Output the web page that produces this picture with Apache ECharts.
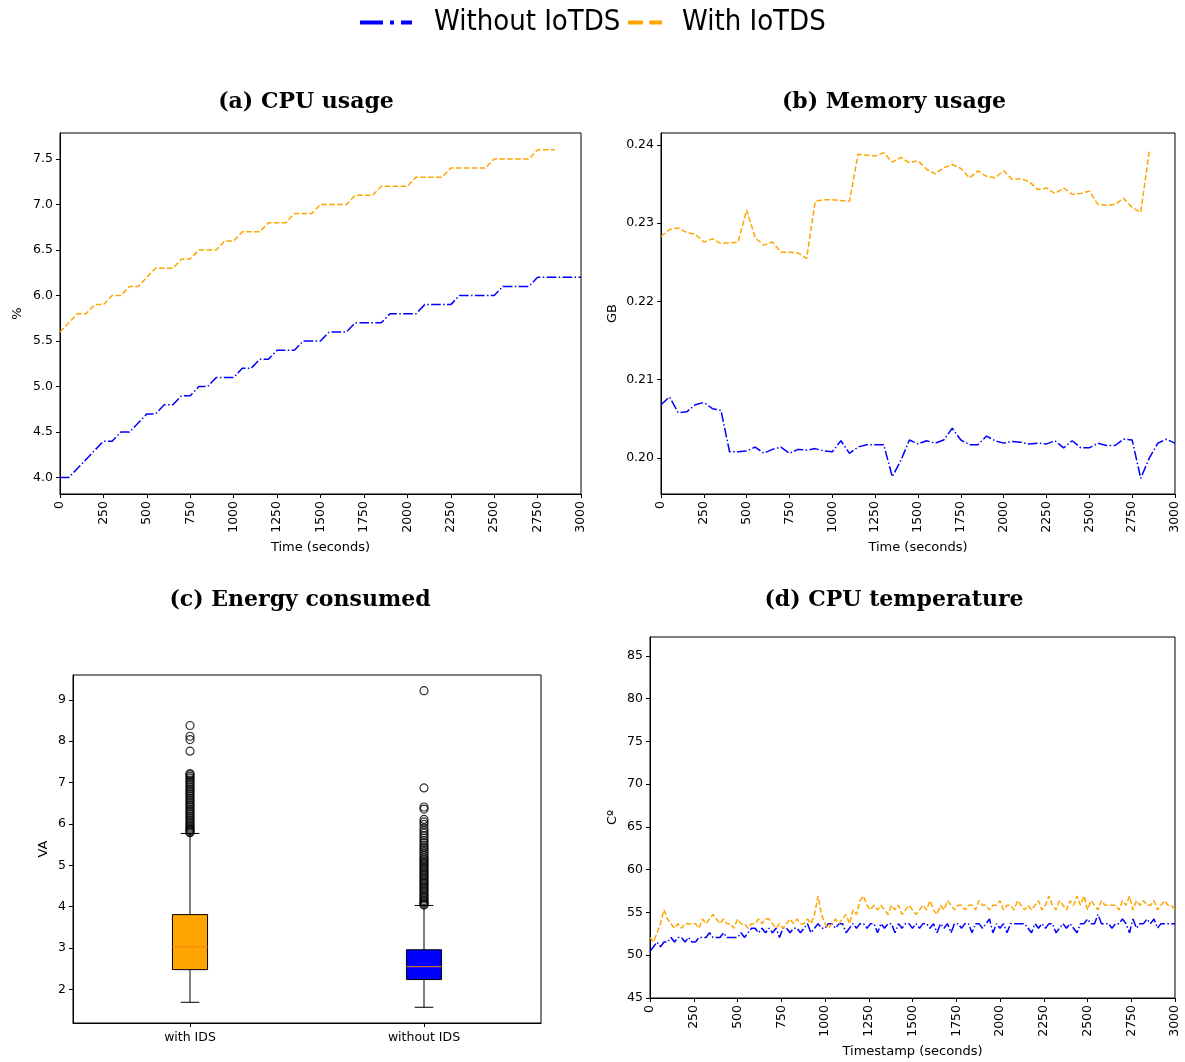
<!DOCTYPE html>
<html>
<head>
<meta charset="utf-8">
<script src="https://cdn.jsdelivr.net/npm/echarts@6/dist/echarts.min.js"></script>
<style>
  html, body { margin: 0; padding: 0; background: #fff; }
  #chart { width: 1185px; height: 1062px; }
</style>
</head>
<body>
<div id="chart"></div>
<script>
// ---- (a) CPU usage, %, one sample every 50 s ----
const cpuStep = 50;
const cpuWithout = [
  4.0, 4.0, 4.1, 4.2, 4.3, 4.4, 4.4, 4.5, 4.5, 4.6,
  4.7, 4.7, 4.8, 4.8, 4.9, 4.9, 5.0, 5.0, 5.1, 5.1,
  5.1, 5.2, 5.2, 5.3, 5.3, 5.4, 5.4, 5.4, 5.5, 5.5,
  5.5, 5.6, 5.6, 5.6, 5.7, 5.7, 5.7, 5.7, 5.8, 5.8,
  5.8, 5.8, 5.9, 5.9, 5.9, 5.9, 6.0, 6.0, 6.0, 6.0,
  6.0, 6.1, 6.1, 6.1, 6.1, 6.2, 6.2, 6.2, 6.2, 6.2,
  6.2
];
const cpuWith = [
  5.6, 5.7, 5.8, 5.8, 5.9, 5.9, 6.0, 6.0, 6.1, 6.1,
  6.2, 6.3, 6.3, 6.3, 6.4, 6.4, 6.5, 6.5, 6.5, 6.6,
  6.6, 6.7, 6.7, 6.7, 6.8, 6.8, 6.8, 6.9, 6.9, 6.9,
  7.0, 7.0, 7.0, 7.0, 7.1, 7.1, 7.1, 7.2, 7.2, 7.2,
  7.2, 7.3, 7.3, 7.3, 7.3, 7.4, 7.4, 7.4, 7.4, 7.4,
  7.5, 7.5, 7.5, 7.5, 7.5, 7.6, 7.6, 7.6
];
const cpuTicks = [4.0, 4.5, 5.0, 5.5, 6.0, 6.5, 7.0, 7.5];

// ---- (b) Memory usage, GB, one sample every 50 s ----
const memStep = 50;
const memWithout = [
  0.2068, 0.2078, 0.2058, 0.2059, 0.2068, 0.2071, 0.2063, 0.2061, 0.2008, 0.2008,
  0.2009, 0.2014, 0.2006, 0.2011, 0.2014, 0.2006, 0.2011, 0.2010, 0.2012, 0.2009,
  0.2008, 0.2022, 0.2006, 0.2014, 0.2017, 0.2017, 0.2017, 0.1976, 0.1997, 0.2023,
  0.2018, 0.2022, 0.2019, 0.2023, 0.2038, 0.2023, 0.2017, 0.2017, 0.2028, 0.2022,
  0.2019, 0.2021, 0.2020, 0.2018, 0.2019, 0.2018, 0.2022, 0.2013, 0.2022, 0.2013,
  0.2013, 0.2019, 0.2016, 0.2016, 0.2024, 0.2023, 0.1974, 0.2000, 0.2019, 0.2024,
  0.2019
];
const memWith = [
  0.2283, 0.2292, 0.2294, 0.2288, 0.2286, 0.2276, 0.2280, 0.2274, 0.2275, 0.2276,
  0.2317, 0.2281, 0.2272, 0.2276, 0.2263, 0.2263, 0.2262, 0.2255, 0.2328, 0.2330,
  0.2330, 0.2329, 0.2328, 0.2388, 0.2387, 0.2386, 0.2390, 0.2378, 0.2384, 0.2377,
  0.2380, 0.2369, 0.2363, 0.2371, 0.2375, 0.2370, 0.2358, 0.2367, 0.2360, 0.2358,
  0.2367, 0.2356, 0.2357, 0.2353, 0.2343, 0.2345, 0.2338, 0.2345, 0.2337, 0.2338,
  0.2341, 0.2324, 0.2323, 0.2324, 0.2332, 0.2320, 0.2314, 0.2392
];
const memTicks = [0.20, 0.21, 0.22, 0.23, 0.24];

// ---- (c) Energy consumed, VA: [min whisker, Q1, median, Q3, max whisker] ----
const energyCategories = ['with IDS', 'without IDS'];
const energyBoxes = [
  [1.69, 2.48, 3.03, 3.81, 5.77],
  [1.57, 2.24, 2.55, 2.96, 4.03]
];
const energyOutliersWith = [
  8.38, 8.12, 8.04, 7.76, 7.22, 7.19, 7.15, 7.11, 7.06, 7.02,
  6.98, 6.93, 6.89, 6.84, 6.80, 6.76, 6.71, 6.67, 6.62, 6.58,
  6.54, 6.49, 6.45, 6.41, 6.36, 6.32, 6.28, 6.23, 6.19, 6.15,
  6.10, 6.06, 6.02, 5.98, 5.94, 5.90, 5.87, 5.84, 5.81, 5.79
];
const energyOutliersWithout = [
  9.22, 6.87, 6.41, 6.36, 6.11, 6.05, 5.99, 5.90, 5.84, 5.78,
  5.72, 5.66, 5.60, 5.55, 5.49, 5.44, 5.39, 5.34, 5.29, 5.24,
  5.19, 5.15, 5.11, 5.07, 5.03, 4.99, 4.95, 4.91, 4.87, 4.83,
  4.79, 4.75, 4.71, 4.67, 4.63, 4.59, 4.55, 4.51, 4.47, 4.43,
  4.39, 4.35, 4.31, 4.27, 4.23, 4.19, 4.15, 4.12, 4.09, 4.06, 4.04
];
const energyTicks = [2, 3, 4, 5, 6, 7, 8, 9];

// ---- (d) CPU temperature, degrees C, one sample every 20 s ----
const tempStep = 20;
const tempWithout = [
  50.47, 51.00, 51.54, 51.00, 51.54, 51.54, 52.08, 51.54, 52.08, 52.08,
  51.54, 52.08, 51.54, 51.54, 52.08, 52.08, 52.08, 52.62, 52.08, 52.08,
  52.08, 52.62, 52.08, 52.08, 52.08, 52.08, 52.62, 52.08, 52.62, 53.16,
  53.16, 52.62, 53.16, 52.62, 53.16, 52.62, 53.16, 52.08, 53.16, 53.16,
  52.62, 53.16, 53.16, 52.62, 53.16, 53.69, 52.62, 53.16, 53.69, 53.16,
  53.16, 53.69, 53.69, 53.16, 53.69, 53.69, 52.62, 53.16, 53.69, 53.16,
  53.69, 53.69, 53.16, 53.69, 53.69, 52.62, 53.69, 53.16, 53.69, 53.69,
  52.62, 53.69, 53.16, 53.69, 53.69, 53.16, 53.69, 53.16, 53.69, 53.69,
  53.16, 53.69, 52.62, 53.69, 53.16, 53.69, 52.62, 53.69, 53.69, 53.16,
  53.69, 53.69, 52.62, 53.69, 53.69, 53.16, 53.69, 54.23, 52.62, 53.69,
  53.16, 53.69, 52.62, 53.69, 53.69, 53.69, 53.69, 53.69, 53.16, 52.62,
  53.69, 53.16, 53.69, 53.16, 53.69, 53.69, 52.62, 53.16, 53.69, 53.16,
  53.69, 53.16, 52.62, 53.69, 53.69, 54.23, 53.69, 53.69, 54.77, 53.69,
  53.69, 53.69, 53.16, 53.69, 53.69, 54.23, 53.69, 52.62, 54.23, 53.16,
  53.69, 53.69, 54.23, 53.69, 54.23, 53.16, 53.69, 53.69, 53.69, 53.69,
  53.69
];
const tempWith = [
  52.08, 51.54, 52.62, 53.69, 55.30, 54.23, 53.69, 53.16, 53.69, 53.16,
  53.69, 53.69, 53.69, 53.69, 53.16, 54.23, 53.69, 54.23, 54.77, 54.23,
  53.69, 54.23, 53.69, 53.69, 53.16, 54.23, 53.69, 53.69, 53.16, 53.69,
  53.69, 54.23, 53.69, 54.23, 54.23, 53.69, 53.16, 53.69, 53.16, 53.69,
  54.23, 53.69, 54.23, 53.69, 53.69, 54.23, 53.69, 54.77, 56.92, 54.77,
  53.69, 53.16, 53.69, 54.23, 53.69, 54.23, 54.77, 53.69, 55.30, 54.77,
  56.38, 56.92, 55.84, 55.30, 55.84, 55.30, 55.84, 55.30, 54.77, 55.84,
  55.30, 55.84, 54.77, 55.30, 55.84, 55.30, 54.77, 55.30, 55.84, 55.30,
  56.38, 55.30, 54.77, 55.84, 55.30, 56.38, 55.84, 55.30, 55.84, 55.84,
  55.30, 55.84, 55.84, 55.30, 56.38, 55.84, 55.84, 55.30, 55.84, 55.84,
  56.38, 55.30, 55.84, 55.84, 55.30, 56.38, 55.84, 55.30, 55.84, 55.30,
  55.84, 56.38, 55.30, 55.84, 56.92, 55.84, 55.30, 56.38, 55.84, 55.30,
  56.38, 55.84, 56.92, 55.84, 56.92, 55.30, 56.38, 55.84, 55.30, 56.38,
  55.84, 55.84, 55.84, 55.84, 55.30, 56.38, 55.84, 56.92, 55.30, 56.38,
  55.84, 56.38, 55.84, 55.84, 56.38, 55.30, 55.84, 56.38, 55.84, 55.84,
  55.30
];
const tempTicks = [45, 50, 55, 60, 65, 70, 75, 80, 85];

const timeTicks = [0, 250, 500, 750, 1000, 1250, 1500, 1750, 2000, 2250, 2500, 2750, 3000];

// ---- styling ----
const BLUE = '#0000ff';
const ORANGE = '#ffa500';
const MEDIAN = '#ff7f0e';
const SANS = 'DejaVu Sans';
const LEGEND_FONT = '"DejaVu Sans Condensed", "DejaVu Sans"';
const DASH_DOT = [9.6, 2.4, 1.5, 2.4];
const DASHED = [5.5, 2.4];

const withTime = (values, step) => values.map((v, i) => [i * step, v]);

const grids = [
  { left: 60,  top: 133, width: 521, height: 361 },
  { left: 661, top: 133, width: 514, height: 361 },
  { left: 73,  top: 675, width: 468, height: 348 },
  { left: 650, top: 637, width: 525, height: 361 }
].map(g => Object.assign({ show: true, borderColor: '#000', borderWidth: 1, backgroundColor: '#fff' }, g));

const tickStyle = { show: true, length: 4, lineStyle: { color: '#000', width: 1 } };
const lineAxis = { show: true, lineStyle: { color: '#000', width: 1 } };
const labelText = { color: '#000', fontFamily: SANS, fontSize: 12.5 };
const nameText = { color: '#000', fontFamily: SANS, fontSize: 13 };

function timeAxis(gridIndex, name) {
  return {
    type: 'value', gridIndex, min: 0, max: 3000,
    name, nameLocation: 'middle', nameGap: 47, nameTextStyle: nameText,
    axisLine: lineAxis,
    axisTick: Object.assign({ customValues: timeTicks }, tickStyle),
    axisLabel: Object.assign({
      customValues: timeTicks, rotate: 90, margin: 7,
      formatter: v => String(Math.round(v))
    }, labelText),
    splitLine: { show: false }
  };
}

function valueAxis(gridIndex, min, max, ticks, digits, name, nameGap) {
  return {
    type: 'value', gridIndex, min, max,
    name, nameLocation: 'middle', nameGap, nameTextStyle: nameText,
    axisLine: lineAxis,
    axisTick: Object.assign({ customValues: ticks }, tickStyle),
    axisLabel: Object.assign({
      customValues: ticks, margin: 7,
      formatter: v => Number(v).toFixed(digits)
    }, labelText),
    splitLine: { show: false }
  };
}

function lineSeries(name, gridIndex, data, color, dash) {
  return {
    type: 'line', name, xAxisIndex: gridIndex, yAxisIndex: gridIndex,
    data, symbol: 'none', showSymbol: false, silent: true,
    lineStyle: { color, width: 1.5, type: dash },
    itemStyle: { color }
  };
}

function legendEntry(name, left, width, color, dash, textPad) {
  return {
    data: [name], left, top: 8, padding: 0,
    itemWidth: width, itemHeight: 14,
    lineStyle: { width: 4, type: dash, color },
    itemStyle: { opacity: 0, color: 'rgba(0,0,0,0)', borderWidth: 0 },
    textStyle: { color: '#000', fontFamily: LEGEND_FONT, fontSize: 29, padding: [0, 0, 0, textPad] },
    selectedMode: false
  };
}

function titleText(text, x, y) {
  return {
    type: 'text', x, y, silent: true,
    style: {
      text, fill: '#000', textAlign: 'center', textVerticalAlign: 'middle',
      font: 'bold 22px "DejaVu Serif", serif'
    }
  };
}

const boxColors = [ORANGE, BLUE];

const option = {
  animation: false,
  backgroundColor: '#fff',
  grid: grids,
  legend: [
    legendEntry('Without IoTDS', 358, 52, BLUE, [23, 7, 4, 7], 17),
    legendEntry('With IoTDS', 626, 34, ORANGE, [15, 6.4], 15)
  ],
  graphic: [
    titleText('(a) CPU usage', 306, 102),
    titleText('(b) Memory usage', 894, 102),
    titleText('(c) Energy consumed', 300, 600),
    titleText('(d) CPU temperature', 894, 600)
  ],
  xAxis: [
    timeAxis(0, 'Time (seconds)'),
    timeAxis(1, 'Time (seconds)'),
    {
      type: 'category', gridIndex: 2, data: energyCategories, boundaryGap: true,
      axisLine: lineAxis,
      axisTick: Object.assign({ alignWithLabel: true }, tickStyle),
      axisLabel: Object.assign({ margin: 8 }, labelText),
      splitLine: { show: false }
    },
    timeAxis(3, 'Timestamp (seconds)')
  ],
  yAxis: [
    valueAxis(0, 3.82, 7.785, cpuTicks, 1, '%', 36),
    valueAxis(1, 0.1954, 0.24153, memTicks, 2, 'GB', 42),
    valueAxis(2, 1.19, 9.6, energyTicks, 0, 'VA', 23),
    valueAxis(3, 45, 87.2, tempTicks, 0, 'Cº', 31)
  ],
  series: [
    lineSeries('Without IoTDS', 0, withTime(cpuWithout, cpuStep), BLUE, DASH_DOT),
    lineSeries('With IoTDS', 0, withTime(cpuWith, cpuStep), ORANGE, DASHED),
    lineSeries('Without IoTDS', 1, withTime(memWithout, memStep), BLUE, DASH_DOT),
    lineSeries('With IoTDS', 1, withTime(memWith, memStep), ORANGE, DASHED),
    lineSeries('Without IoTDS', 3, withTime(tempWithout, tempStep), BLUE, DASH_DOT),
    lineSeries('With IoTDS', 3, withTime(tempWith, tempStep), ORANGE, DASHED),
    {
      type: 'custom', name: 'energy-box', xAxisIndex: 2, yAxisIndex: 2, silent: true,
      data: energyBoxes.map((b, i) => [i].concat(b)),
      encode: { x: 0, y: [1, 2, 3, 4, 5] },
      renderItem(params, api) {
        const idx = api.value(0);
        const band = api.size([1, 0])[0];
        const boxW = band * 0.15;
        const capW = band * 0.08;
        const lo = api.coord([idx, api.value(1)]);
        const q1 = api.coord([idx, api.value(2)]);
        const md = api.coord([idx, api.value(3)]);
        const q3 = api.coord([idx, api.value(4)]);
        const hi = api.coord([idx, api.value(5)]);
        const cx = lo[0];
        const black = { stroke: '#000', lineWidth: 1 };
        return {
          type: 'group',
          children: [
            { type: 'line', shape: { x1: cx, y1: lo[1], x2: cx, y2: q1[1] }, style: black },
            { type: 'line', shape: { x1: cx, y1: q3[1], x2: cx, y2: hi[1] }, style: black },
            { type: 'line', shape: { x1: cx - capW / 2, y1: lo[1], x2: cx + capW / 2, y2: lo[1] }, style: black },
            { type: 'line', shape: { x1: cx - capW / 2, y1: hi[1], x2: cx + capW / 2, y2: hi[1] }, style: black },
            {
              type: 'rect',
              shape: { x: cx - boxW / 2, y: q3[1], width: boxW, height: q1[1] - q3[1] },
              style: { fill: boxColors[idx], stroke: '#000', lineWidth: 1 }
            },
            { type: 'line', shape: { x1: cx - boxW / 2, y1: md[1], x2: cx + boxW / 2, y2: md[1] }, style: { stroke: MEDIAN, lineWidth: 1 } }
          ]
        };
      }
    },
    {
      type: 'scatter', name: 'energy-outliers', xAxisIndex: 2, yAxisIndex: 2, silent: true,
      data: energyOutliersWith.map(v => [0, v]).concat(energyOutliersWithout.map(v => [1, v])),
      symbol: 'circle', symbolSize: 8, z: 5,
      itemStyle: { color: 'rgba(0,0,0,0)', borderColor: '#000', borderWidth: 1.2 }
    }
  ]
};

const chart = echarts.init(document.getElementById('chart'), null, { renderer: 'canvas' });
chart.setOption(option);
</script>
</body>
</html>
